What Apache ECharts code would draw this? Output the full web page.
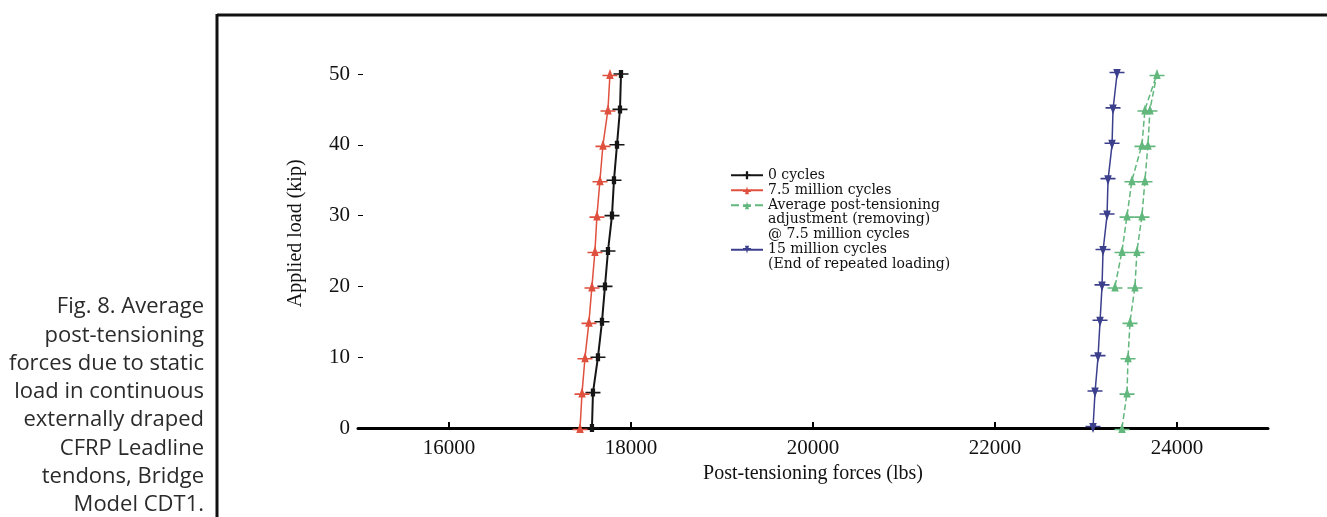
<!DOCTYPE html>
<html>
<head>
<meta charset="utf-8">
<script src="https://cdn.jsdelivr.net/npm/echarts@6/dist/echarts.min.js"></script>
<style>html,body{margin:0;padding:0;background:#fff;}#c{width:1327px;height:517px;}</style>
</head>
<body>
<div id="c"></div>
<script>
// Applied load levels (kip)
const loadLevels = [0, 5, 10, 15, 20, 25, 30, 35, 40, 45, 50];
// Post-tensioning forces (lbs)
const force0Cycles = [17571, 17582, 17637, 17681, 17714, 17747, 17791, 17813, 17846, 17879, 17890];
const force75M = [17440, 17462, 17495, 17538, 17571, 17604, 17626, 17659, 17692, 17747, 17769];
const forceAdjUp = [23396, 23451, 23462, 23484, 23538, 23560, 23615, 23648, 23681, 23703, 23780];
const adjDownLoad = [45, 40, 35, 30, 25, 20];
const forceAdjDown = [23648, 23615, 23505, 23451, 23396, 23319];
const force15M = [23077, 23099, 23132, 23154, 23176, 23187, 23231, 23242, 23286, 23297, 23341];
const xTicks = [16000, 18000, 20000, 22000, 24000];
const yTicks = [0, 10, 20, 30, 40, 50];
const seriesNames = [
  '0 cycles',
  '7.5 million cycles',
  'Average post-tensioning\nadjustment (removing)\n@ 7.5 million cycles',
  '15 million cycles\n(End of repeated loading)'
];
const captionLines = ['Fig. 8. Average', 'post-tensioning', 'forces due to static', 'load in continuous', 'externally draped', 'CFRP Leadline', 'tendons, Bridge', 'Model CDT1.'];

const zip = (xs, ys) => xs.map((x, i) => [x, ys[i]]);
const greenData = zip(forceAdjUp, loadLevels).concat(zip(forceAdjDown, adjDownLoad));

const symRect = 'path://M0,4.4H14V5.6H0Z M5,2H9V8H5Z';
const symUp = 'path://M0,5.3H14V6.5H0Z M7,1L10.5,8.5H3.5Z';
const symDown = 'path://M0,3.5H14V4.7H0Z M3.5,1.5H10.5L7,9Z';

const colors = ['#151515', '#e0503e', '#62b77c', '#3b3f8c'];
const serif = '"Liberation Serif", "DejaVu Serif", serif';

const chart = echarts.init(document.getElementById('c'), null, {renderer: 'canvas'});

function legendFor(i, top) {
  const lines = seriesNames[i].split('\n').length;
  return {
    show: true, orient: 'vertical', left: 730, top: top, padding: 0,
    itemWidth: 32, itemHeight: 10,
    data: [seriesNames[i]],
    formatter: (name) => '\n'.repeat(lines - 1) + name,
    textStyle: {fontFamily: '"DejaVu Serif", serif', fontSize: 14, lineHeight: 14.5, color: '#111'},
    selectedMode: false
  };
}

chart.setOption({
  animation: false,
  backgroundColor: '#fff',
  grid: {left: 358, right: 59, top: 38.6, bottom: 89},
  xAxis: {
    type: 'value', min: 15000, max: 25000,
    name: 'Post-tensioning forces (lbs)', nameLocation: 'middle', nameGap: 34,
    nameTextStyle: {fontFamily: serif, fontSize: 20, color: '#111'},
    axisLine: {show: true, lineStyle: {color: '#000', width: 3}},
    axisTick: {show: true, inside: true, length: 6, lineStyle: {color: '#000', width: 2}, customValues: xTicks},
    axisLabel: {fontFamily: serif, fontSize: 21, color: '#111', margin: 10, customValues: xTicks, formatter: (v) => String(v)},
    splitLine: {show: false}
  },
  yAxis: {
    type: 'value', min: 0, max: 55,
    name: 'Applied load (kip)', nameLocation: 'middle', nameGap: 52,
    nameTextStyle: {fontFamily: serif, fontSize: 20, color: '#111'},
    axisLine: {show: false},
    axisTick: {show: true, inside: true, length: 5, lineStyle: {color: '#000', width: 1}, customValues: yTicks},
    axisLabel: {fontFamily: serif, fontSize: 21, color: '#111', margin: 8, customValues: yTicks, formatter: (v) => String(v)},
    splitLine: {show: false}
  },
  legend: [legendFor(0, 168), legendFor(1, 183), legendFor(2, 169), legendFor(3, 228)],
  series: [
    {name: seriesNames[0], type: 'line', data: zip(force0Cycles, loadLevels), color: colors[0],
     symbol: symRect, symbolSize: [15, 8], lineStyle: {width: 2, color: colors[0]}, itemStyle: {color: colors[0]}, clip: false},
    {name: seriesNames[1], type: 'line', data: zip(force75M, loadLevels), color: colors[1],
     symbol: symUp, symbolSize: [15, 10], lineStyle: {width: 1.5, color: colors[1]}, itemStyle: {color: colors[1]}, clip: false},
    {name: seriesNames[2], type: 'line', data: greenData, color: colors[2],
     symbol: symUp, symbolSize: [15, 10], lineStyle: {width: 1.5, type: 'dashed', color: colors[2]}, itemStyle: {color: colors[2]}, clip: false},
    {name: seriesNames[3], type: 'line', data: zip(force15M, loadLevels), color: colors[3],
     symbol: symDown, symbolSize: [15, 10], lineStyle: {width: 1.5, color: colors[3]}, itemStyle: {color: colors[3]}, clip: false}
  ],
  graphic: [
    {type: 'line', shape: {x1: 217, y1: 15, x2: 1327, y2: 15}, style: {stroke: '#111', lineWidth: 3}, silent: true},
    {type: 'line', shape: {x1: 217, y1: 14, x2: 217, y2: 517}, style: {stroke: '#111', lineWidth: 3}, silent: true}
  ].concat(captionLines.map((t, i) => ({
    type: 'text', x: 204, y: 307 + i * 28.3, silent: true,
    style: {text: t, align: 'right', verticalAlign: 'middle', font: '22px "Open Sans", Lato, sans-serif', fill: '#2b2b2b'}
  })))
});
</script>
</body>
</html>
